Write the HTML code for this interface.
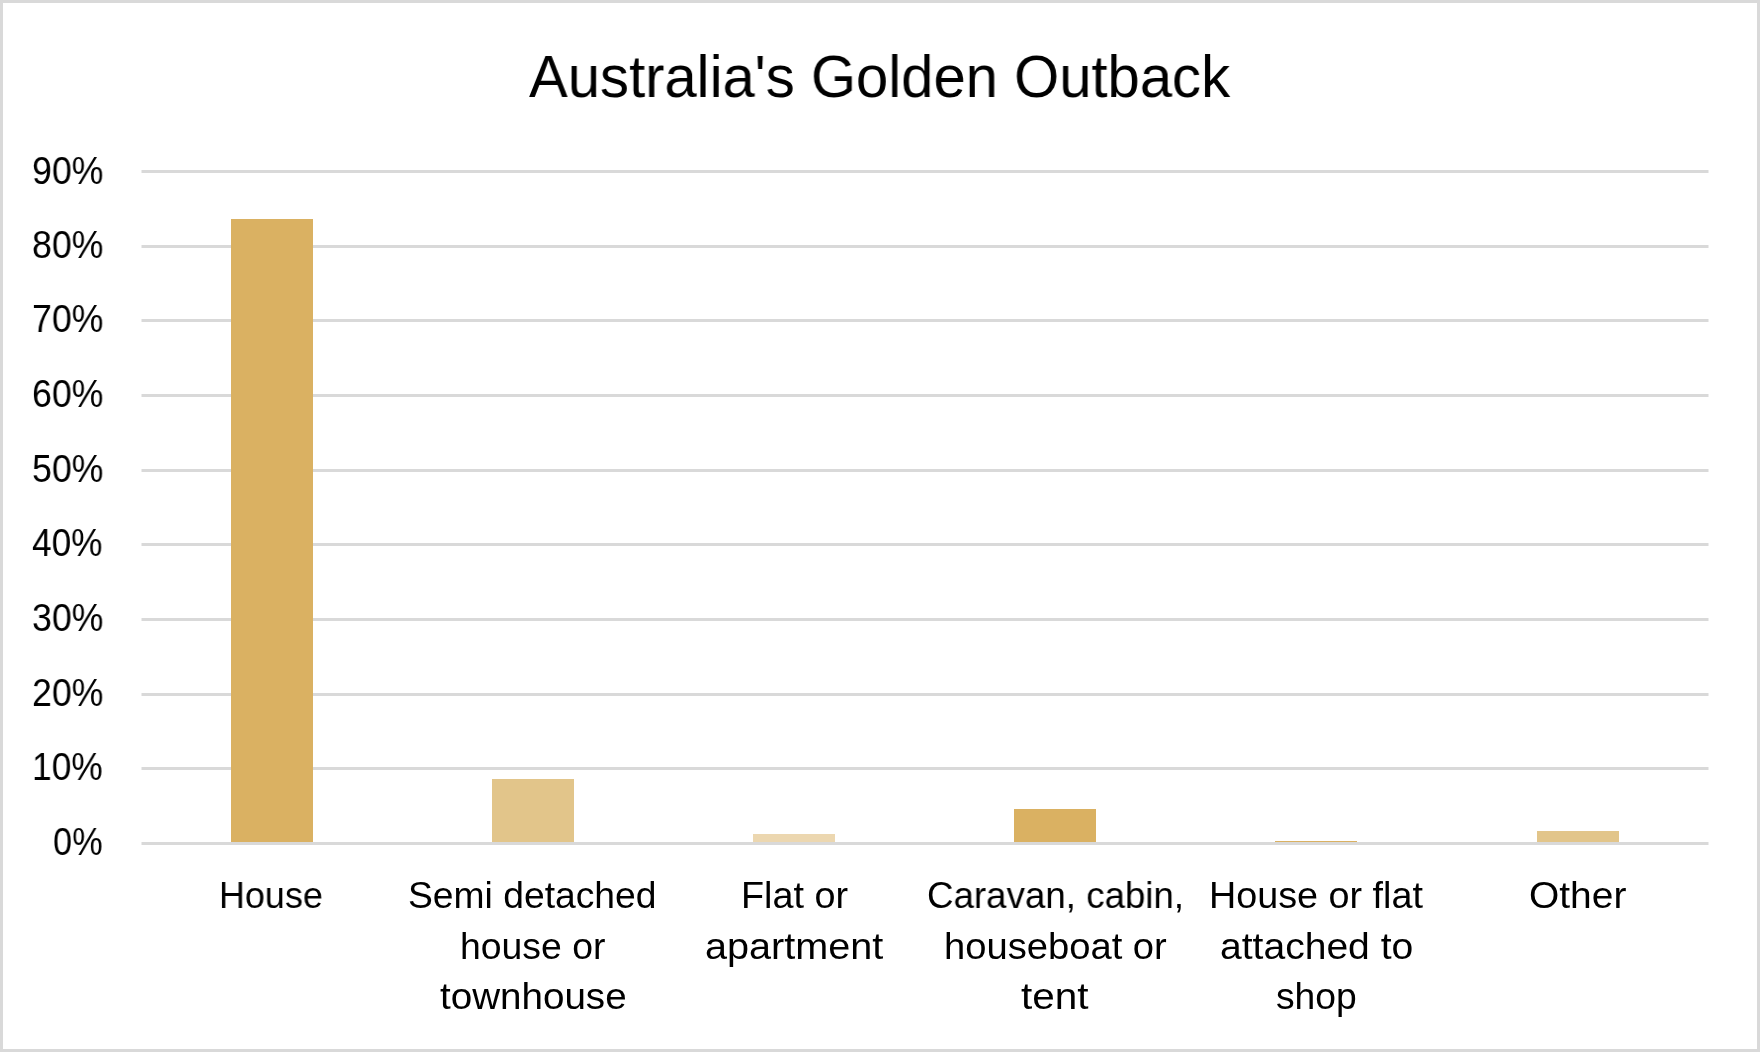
<!DOCTYPE html>
<html><head><meta charset="utf-8"><title>Australia's Golden Outback</title>
<style>
html,body{margin:0;padding:0;background:#fff;}
#c{position:absolute;left:0;top:0;width:1754px;height:1046px;border:3px solid #D9D9D9;background:#fff;overflow:hidden;}
.t{position:absolute;-webkit-font-smoothing:antialiased;will-change:transform;font-family:"Liberation Sans",sans-serif;line-height:1;white-space:pre;color:#000;transform-origin:0 0;}
svg{position:absolute;left:0;top:0;}
</style></head><body>
<div id="c"></div>
<svg width="1760" height="1052" viewBox="0 0 1760 1052">
<rect x="141.5" y="170" width="1567" height="3" fill="#D9D9D9"/>
<rect x="141.5" y="245" width="1567" height="3" fill="#D9D9D9"/>
<rect x="141.5" y="319" width="1567" height="3" fill="#D9D9D9"/>
<rect x="141.5" y="394" width="1567" height="3" fill="#D9D9D9"/>
<rect x="141.5" y="469" width="1567" height="3" fill="#D9D9D9"/>
<rect x="141.5" y="543" width="1567" height="3" fill="#D9D9D9"/>
<rect x="141.5" y="618" width="1567" height="3" fill="#D9D9D9"/>
<rect x="141.5" y="693" width="1567" height="3" fill="#D9D9D9"/>
<rect x="141.5" y="767" width="1567" height="3" fill="#D9D9D9"/>
<rect x="141.5" y="842" width="1567" height="3" fill="#D9D9D9"/>
<rect x="231" y="219" width="82" height="623" fill="#DAB162"/>
<rect x="492" y="779" width="82" height="63" fill="#E2C58A"/>
<rect x="753" y="834" width="82" height="8" fill="#ECD7B0"/>
<rect x="1014" y="809" width="82" height="33" fill="#DAB162"/>
<rect x="1275" y="841" width="82" height="1" fill="#DAB162"/>
<rect x="1537" y="831" width="82" height="11" fill="#E2C58A"/>
</svg>
<div class="t" style="left:529.40px;top:47.51px;font-size:58.7px;transform:scaleX(0.9884)">Australia&#39;s Golden Outback</div>
<div class="t" style="left:219.39px;top:877.28px;font-size:37.0px;transform:scaleX(0.9699)">House</div>
<div class="t" style="left:407.99px;top:877.28px;font-size:37.0px;transform:scaleX(1.0066)">Semi detached</div>
<div class="t" style="left:460.08px;top:927.78px;font-size:37.0px;transform:scaleX(1.0099)">house or</div>
<div class="t" style="left:439.90px;top:978.28px;font-size:37.0px;transform:scaleX(1.0427)">townhouse</div>
<div class="t" style="left:740.84px;top:877.28px;font-size:37.0px;transform:scaleX(1.0208)">Flat or</div>
<div class="t" style="left:704.76px;top:927.78px;font-size:37.0px;transform:scaleX(1.0707)">apartment</div>
<div class="t" style="left:927.02px;top:877.28px;font-size:37.0px;transform:scaleX(0.9921)">Caravan, cabin,</div>
<div class="t" style="left:943.94px;top:927.78px;font-size:37.0px;transform:scaleX(1.0313)">houseboat or</div>
<div class="t" style="left:1021.30px;top:978.28px;font-size:37.0px;transform:scaleX(1.0952)">tent</div>
<div class="t" style="left:1208.74px;top:877.28px;font-size:37.0px;transform:scaleX(1.0198)">House or flat</div>
<div class="t" style="left:1219.69px;top:927.78px;font-size:37.0px;transform:scaleX(1.0556)">attached to</div>
<div class="t" style="left:1276.39px;top:978.28px;font-size:37.0px;transform:scaleX(1.0064)">shop</div>
<div class="t" style="left:1528.60px;top:877.28px;font-size:37.0px;transform:scaleX(1.0522)">Other</div>
<div class="t" style="left:31.52px;top:152.03px;font-size:38.0px;transform:scaleX(0.9384)">90%</div>
<div class="t" style="left:31.52px;top:226.03px;font-size:38.0px;transform:scaleX(0.9384)">80%</div>
<div class="t" style="left:31.52px;top:300.43px;font-size:38.0px;transform:scaleX(0.9384)">70%</div>
<div class="t" style="left:31.52px;top:375.43px;font-size:38.0px;transform:scaleX(0.9384)">60%</div>
<div class="t" style="left:31.52px;top:450.43px;font-size:38.0px;transform:scaleX(0.9384)">50%</div>
<div class="t" style="left:32.47px;top:524.43px;font-size:38.0px;transform:scaleX(0.9257)">40%</div>
<div class="t" style="left:31.52px;top:599.43px;font-size:38.0px;transform:scaleX(0.9384)">30%</div>
<div class="t" style="left:31.52px;top:674.43px;font-size:38.0px;transform:scaleX(0.9384)">20%</div>
<div class="t" style="left:32.21px;top:748.43px;font-size:38.0px;transform:scaleX(0.9292)">10%</div>
<div class="t" style="left:53.20px;top:823.43px;font-size:38.0px;transform:scaleX(0.9019)">0%</div>
</body></html>
